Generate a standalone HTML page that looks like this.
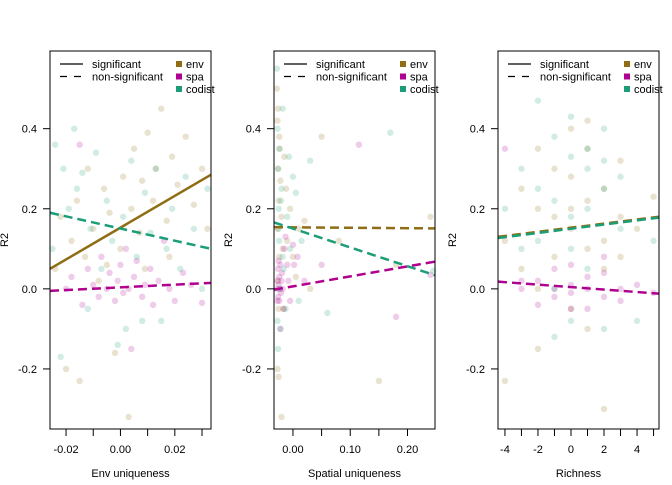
<!DOCTYPE html>
<html><head><meta charset="utf-8"><style>
body{margin:0;background:#fff}
svg{font-family:"Liberation Sans",Arial,sans-serif}
</style></head><body>
<svg id="chart" width="672" height="480" viewBox="0 0 672 480" xmlns="http://www.w3.org/2000/svg"></svg>
<script>
// Panel 1: Env uniqueness
const p1EnvX=[-0.024,-0.022,-0.02,-0.018,-0.016,-0.015,-0.013,-0.012,-0.01,-0.008,-0.006,-0.004,-0.002,0,0.001,0.003,0.004,0.005,0.007,0.008,0.01,0.012,0.013,0.015,0.017,0.019,0.021,0.024,0.027,0.03,0.032,-0.005,0.009,0.018];
const p1EnvY=[0.05,0.18,-0.2,0.12,0.22,-0.23,0.08,0.3,0.15,0.02,0.25,0.19,-0.16,0.1,0.28,-0.32,0.2,0.35,0.14,0.27,0.39,0.22,0.3,0.45,0.17,0.33,0.26,0.38,0.21,0.3,0.15,0.06,0.05,0.08];
const p1SpaX=[-0.02,-0.018,-0.015,-0.014,-0.012,-0.01,-0.008,-0.007,-0.005,-0.004,-0.002,-0.001,0,0.001,0.002,0.003,0.004,0.005,0.006,0.008,0.009,0.011,0.012,0.014,0.016,0.018,0.02,0.023,0.026,0.03];
const p1SpaY=[0.0,0.03,0.36,-0.04,0.05,0.01,-0.02,0.08,0.0,0.04,-0.03,0.02,0.06,-0.01,0.1,0.0,-0.15,0.03,0.07,-0.02,0.01,0.05,-0.04,0.02,0.12,0.0,-0.03,0.04,0.01,-0.035];
const p1CodX=[-0.025,-0.024,-0.022,-0.021,-0.019,-0.017,-0.016,-0.014,-0.012,-0.011,-0.009,-0.007,-0.005,-0.003,-0.001,0.001,0.002,0.004,0.006,0.008,0.009,0.011,0.013,0.015,0.017,0.019,0.022,0.024,0.027,0.03,0.032];
const p1CodY=[0.1,0.36,-0.17,0.3,0.2,0.4,0.25,0.29,-0.05,0.15,0.34,0.05,0.22,0.12,-0.14,0.18,-0.1,0.32,0.08,-0.08,0.24,0.14,0.3,-0.08,0.1,0.2,0.05,0.28,0.15,0.0,0.25];
// Panel 2: Spatial uniqueness
const p2EnvX=[-0.028,-0.027,-0.026,-0.025,-0.027,-0.024,-0.026,-0.025,-0.023,-0.027,-0.025,-0.022,-0.02,-0.018,-0.015,-0.012,-0.01,-0.005,0.0,0.005,0.01,0.02,0.03,0.05,0.08,0.15,0.18,0.24,-0.026,-0.024,-0.02,-0.017];
const p2EnvY=[0.5,0.42,0.3,0.22,0.15,0.08,0.02,-0.05,0.35,-0.2,-0.22,0.27,0.18,0.1,0.33,0.25,0.12,0.2,0.08,0.03,0.15,0.17,0.0,0.38,0.12,-0.23,0.06,0.18,0.45,0.38,-0.32,-0.05];
const p2SpaX=[-0.028,-0.027,-0.026,-0.026,-0.025,-0.024,-0.024,-0.023,-0.022,-0.021,-0.02,-0.019,-0.018,-0.016,-0.015,-0.013,-0.01,-0.008,-0.005,0.0,0.002,0.008,0.02,0.05,0.115,0.18,0.24,-0.027,-0.025,-0.022];
const p2SpaY=[0.0,0.02,-0.02,0.05,0.01,-0.03,0.03,0.0,0.06,-0.01,0.02,0.04,0.0,-0.05,0.1,0.13,0.06,0.02,-0.03,0.11,0.06,0.08,0.02,0.06,0.36,-0.07,0.035,-0.03,0.07,-0.1];
const p2CodX=[-0.028,-0.027,-0.026,-0.025,-0.024,-0.023,-0.022,-0.02,-0.018,-0.016,-0.013,-0.01,-0.007,-0.005,0.0,0.005,0.01,0.015,0.03,0.06,0.17,0.245,-0.026,-0.024,-0.021,-0.018,-0.027,-0.025];
const p2CodY=[0.55,0.4,0.3,0.2,0.12,0.0,-0.1,0.25,0.45,0.05,-0.05,0.18,0.33,0.1,0.28,0.24,-0.03,0.12,0.32,-0.06,0.39,0.045,-0.15,0.35,0.22,0.08,-0.08,0.15];
// Panel 3: Richness
const p3EnvX=[-4,-4,-3,-3,-2,-2,-2,-1,-1,-1,0,0,0,0,1,1,1,1,2,2,2,3,3,3,4,5,-2,0,1,2];
const p3EnvY=[0.12,-0.23,0.25,0.05,0.2,0.35,-0.15,0.08,0.3,0.18,0.4,0.15,-0.05,0.28,0.22,0.1,-0.1,0.35,0.25,0.05,-0.3,0.18,0.32,0.08,0.15,0.23,0.0,0.2,0.42,0.12];
const p3SpaX=[-4,-3,-2,-2,-1,-1,0,0,0,1,1,2,2,3,3,4,5,-1,0,1,2,-3];
const p3SpaY=[0.35,0.0,0.02,-0.04,0.05,-0.02,0.01,0.06,-0.05,0.0,0.03,-0.02,0.04,0.0,-0.03,0.01,-0.01,0.0,-0.01,-0.05,0.08,0.02];
const p3CodX=[-4,-3,-3,-2,-2,-1,-1,-1,0,0,0,0,1,1,1,2,2,2,3,3,4,5,-2,0,1,-1,2];
const p3CodY=[0.2,0.3,0.1,0.47,0.12,0.38,0.0,0.22,0.43,0.33,0.18,-0.08,0.3,0.05,0.2,0.25,-0.1,0.4,0.15,0.28,-0.08,0.12,0.25,0.1,0.35,-0.12,0.32];
// fitted lines: values at panel left & right edges
const p1Fit={env:[0.05,0.285],spa:[-0.005,0.015],cod:[0.19,0.10]};
const p2Fit={env:[0.154,0.151],spa:[-0.002,0.068],cod:[0.166,0.034]};
const p3Fit={env:[0.13,0.18],spa:[0.018,-0.012],cod:[0.127,0.178]};
const yTicks=[-0.2,0.0,0.2,0.4];
const yTickLabels=["-0.2","0.0","0.2","0.4"];

const C={env:"#8f6d14",spa:"#b0008f",cod:"#1b9e77"};
const svg=document.getElementById('chart');
const NS="http://www.w3.org/2000/svg";
function mk(tag,attrs,parent){const e=document.createElementNS(NS,tag);for(const k in attrs)e.setAttribute(k,attrs[k]);(parent||svg).appendChild(e);return e;}
const Y0=51,Y1=429,ymin=-0.35,ymax=0.594;
function sy(v){return Y1-(v-ymin)/(ymax-ymin)*(Y1-Y0);}

const panels=[
 {L:50,R:211,xmin:-0.0259,xmax:0.0333,ticks:[-0.02,-0.01,0,0.01,0.02,0.03],labels:["-0.02","","0.00","","0.02",""],title:"Env uniqueness",d:[[p1EnvX,p1EnvY],[p1SpaX,p1SpaY],[p1CodX,p1CodY]],fit:p1Fit,sig:{env:true,spa:false,cod:false},id:"env-uniqueness"},
 {L:274,R:435,xmin:-0.0331,xmax:0.248,ticks:[0,0.05,0.1,0.15,0.2],labels:["0.00","","0.10","","0.20"],title:"Spatial uniqueness",d:[[p2EnvX,p2EnvY],[p2SpaX,p2SpaY],[p2CodX,p2CodY]],fit:p2Fit,sig:{env:false,spa:false,cod:false},id:"spatial-uniqueness"},
 {L:498,R:659,xmin:-4.42,xmax:5.33,ticks:[-4,-3,-2,-1,0,1,2,3,4,5],labels:["-4","","-2","","0","","2","","4",""],title:"Richness",d:[[p3EnvX,p3EnvY],[p3SpaX,p3SpaY],[p3CodX,p3CodY]],fit:p3Fit,sig:{env:false,spa:false,cod:false},id:"richness"}
];
const keys=["env","spa","cod"];
panels.forEach((p,pi)=>{
 const g=mk('g',{});
 
 
 const sx=v=>p.L+(v-p.xmin)/(p.xmax-p.xmin)*(p.R-p.L);
 p.d.forEach((s,si)=>{
  s[0].forEach((xv,i)=>{
   const c=mk('circle',{cx:sx(xv),cy:sy(s[1][i]),r:3.2,fill:C[keys[si]],'fill-opacity':0.2},g);
   
   
  });
 });
 keys.forEach(k=>{
  const f=p.fit[k];
  const l=mk('line',{x1:p.L,y1:sy(f[0]),x2:p.R,y2:sy(f[1]),stroke:C[k],'stroke-width':2.5},g);
  if(!p.sig[k])l.setAttribute('stroke-dasharray','9,5');
  
  
 });
 const b=mk('rect',{x:p.L,y:Y0,width:p.R-p.L,height:Y1-Y0,fill:'none',stroke:'#000','stroke-width':1},g);
 
 
 yTicks.forEach((t,i)=>{
  mk('line',{x1:p.L-7,x2:p.L,y1:sy(t),y2:sy(t),stroke:'#000'},g);
  const tx=mk('text',{x:p.L-13,y:sy(t)+4,'font-size':11,'text-anchor':'end'},g);
  tx.textContent=yTickLabels[i];
  
  
 });
 const yl=mk('text',{x:0,y:0,'font-size':11,'text-anchor':'middle',transform:`translate(${p.L-42},240) rotate(-90)`},g);
 yl.textContent='R2';
 
 
 mk('line',{x1:sx(p.ticks[0]),x2:sx(p.ticks[p.ticks.length-1]),y1:Y1,y2:Y1,stroke:'#000'},g);
 p.ticks.forEach((t,i)=>{
  mk('line',{x1:sx(t),x2:sx(t),y1:Y1,y2:Y1+7,stroke:'#000'},g);
  if(p.labels[i]){
   const tx=mk('text',{x:sx(t),y:453,'font-size':11,'text-anchor':'middle'},g);
   tx.textContent=p.labels[i];
   
   
  }
 });
 const xt=mk('text',{x:(p.L+p.R)/2,y:477,'font-size':11,'text-anchor':'middle'},g);
 xt.textContent=p.title;
 
 
 const lg=mk('g',{},g);
 
 
 [["significant",null],["non-significant","7,7"]].forEach((e,i)=>{
  const y=64+i*12.5;
  const ln=mk('line',{x1:p.L+10,x2:p.L+33,y1:y,y2:y,stroke:'#000','stroke-width':1.2},lg);
  if(e[1])ln.setAttribute('stroke-dasharray',e[1]);
  const tx=mk('text',{x:p.L+42,y:y+4,'font-size':11},lg);
  tx.textContent=e[0];
  
  
 });
 [["env",C.env],["spa",C.spa],["codist",C.cod]].forEach((e,i)=>{
  const y=64+i*12.5;
  mk('rect',{x:p.L+126,y:y-3,width:6,height:6,fill:e[1]},lg);
  const tx=mk('text',{x:p.L+136,y:y+4,'font-size':11},lg);
  tx.textContent=e[0];
  
  
 });
});
</script>
</body></html>
